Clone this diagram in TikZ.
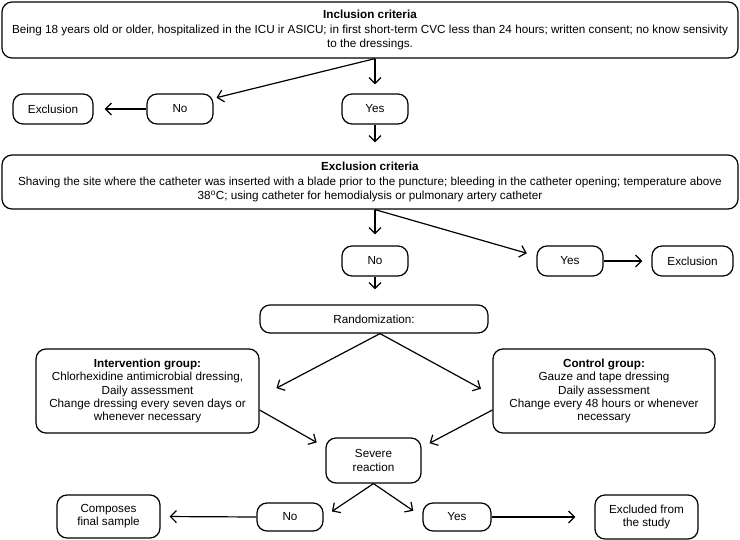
\documentclass[tikz,border=0pt]{standalone}
\usepackage{fontspec}
\setmainfont{Liberation Sans}
\usetikzlibrary{arrows.meta,calc}

\begin{document}
\begin{tikzpicture}[x=1pt,y=-1pt,
        box/.style={draw=black, line width=1.2pt, rounded corners=10pt, align=center, inner sep=0pt, font=\fontsize{11.7}{13.2}\selectfont},
        widebox/.style={box, minimum width=736pt, font=\fontsize{11.7}{14.5}\selectfont},
        smallbox/.style={box, minimum width=66pt, minimum height=30pt},
        arr/.style={-{Straight Barb[length=6pt,width=12pt]}, line width=1.2pt, black}]
        \useasboundingbox (0,0) rectangle (740,540);

        % criteria
        \node[widebox, minimum height=56pt] (incl) at (370,30) {\textbf{Inclusion criteria}\\Being 18 years old or older, hospitalized in the ICU ir ASICU; in first short-term CVC less than 24 hours; written consent; no know sensivity\\to the dressings.};
        \node[smallbox, minimum width=80pt] (excl1) at (53,109) {Exclusion};
        \node[smallbox] (no1) at (180,109) {No};
        \node[smallbox] (yes1) at (375,109) {Yes};

        \node[widebox, minimum height=54pt] (excrit) at (370,182) {\textbf{Exclusion criteria}\\Shaving the site where the catheter was inserted with a blade prior to the puncture; bleeding in the catheter opening; temperature above\\38\textsuperscript{o}C; using catheter for hemodialysis or pulmonary artery catheter};
        \node[smallbox] (no2) at (375,261) {No};
        \node[smallbox] (yes2) at (570,261) {Yes};
        \node[smallbox, minimum width=81pt] (excl2) at (692.5,261) {Exclusion};

        % groups
        \node[box, minimum width=228pt, minimum height=28pt] (rand) at (374,319) {Randomization:};
        \node[box, minimum width=223pt, minimum height=84pt] (interv) at (147.5,391) {\textbf{Intervention group:}\\Chlorhexidine antimicrobial dressing,\\Daily assessment\\Change dressing every seven days or\\whenever necessary};
        \node[box, minimum width=222pt, minimum height=84pt] (control) at (604,391) {\textbf{Control group:}\\Gauze and tape dressing\\Daily assessment\\Change every 48 hours or whenever\\necessary};
        \node[box, minimum width=95pt, minimum height=45pt] (severe) at (373.5,460.5) {Severe\\reaction};

        % bottom row
        \node[smallbox, minimum height=28pt] (no3) at (290,517) {No};
        \node[smallbox, minimum width=68pt, minimum height=28pt] (yes3) at (457,517) {Yes};
        \node[box, minimum width=103pt, minimum height=43pt] (comp) at (108.5,516.5) {Composes\\final sample};
        \node[box, minimum width=103pt, minimum height=44pt] (exclst) at (646.5,517) {Excluded from\\the study};

        % vertical
        \draw[arr, shorten >=9pt] (yes1.north |- incl.south) -- (yes1.north);
        \draw[arr, shorten >=12pt] (yes1.south) -- (yes1.south |- excrit.north);
        \draw[arr, shorten >=11pt] (no2.north |- excrit.south) -- (no2.north);
        \draw[arr, shorten >=15pt] (no2.south) -- (no2.south |- rand.north);

        % slanted
        \draw[arr, shorten >=3pt] (yes1.north |- incl.south) -- ($(no1.north east)+(0,5)$);
        \draw[arr, shorten >=10pt] (no2.north |- excrit.south) -- ($(yes2.west)+(0,-5)$);
        \draw[arr, shorten >=19pt] ([xshift=6pt]rand.south) -- ([yshift=-6pt]interv.east);
        \draw[arr, shorten >=13pt] ([xshift=6pt]rand.south) -- ([yshift=-4pt]control.west);
        \draw[arr, shorten >=10pt] ([yshift=-19pt]interv.east) -- ([yshift=-10pt]severe.north west);
        \draw[arr, shorten >=9pt] ([yshift=-19pt]control.west) -- ([yshift=-10pt]severe.north east);
        \draw[arr, shorten >=10pt] (severe.south) -- (no3.east);
        \draw[arr, shorten >=11pt] (severe.south) -- (yes3.west);

        % horizontal
        \draw[arr, shorten >=11pt] (no1.west) -- (excl1.east);
        \draw[arr, shorten >=9pt] (yes2.east) -- (excl2.west);
        \draw[arr, shorten >=9pt] (no3.west) -- (comp.east);
        \draw[arr, shorten >=19pt] (yes3.east) -- (exclst.west);
\end{tikzpicture}
\end{document}
